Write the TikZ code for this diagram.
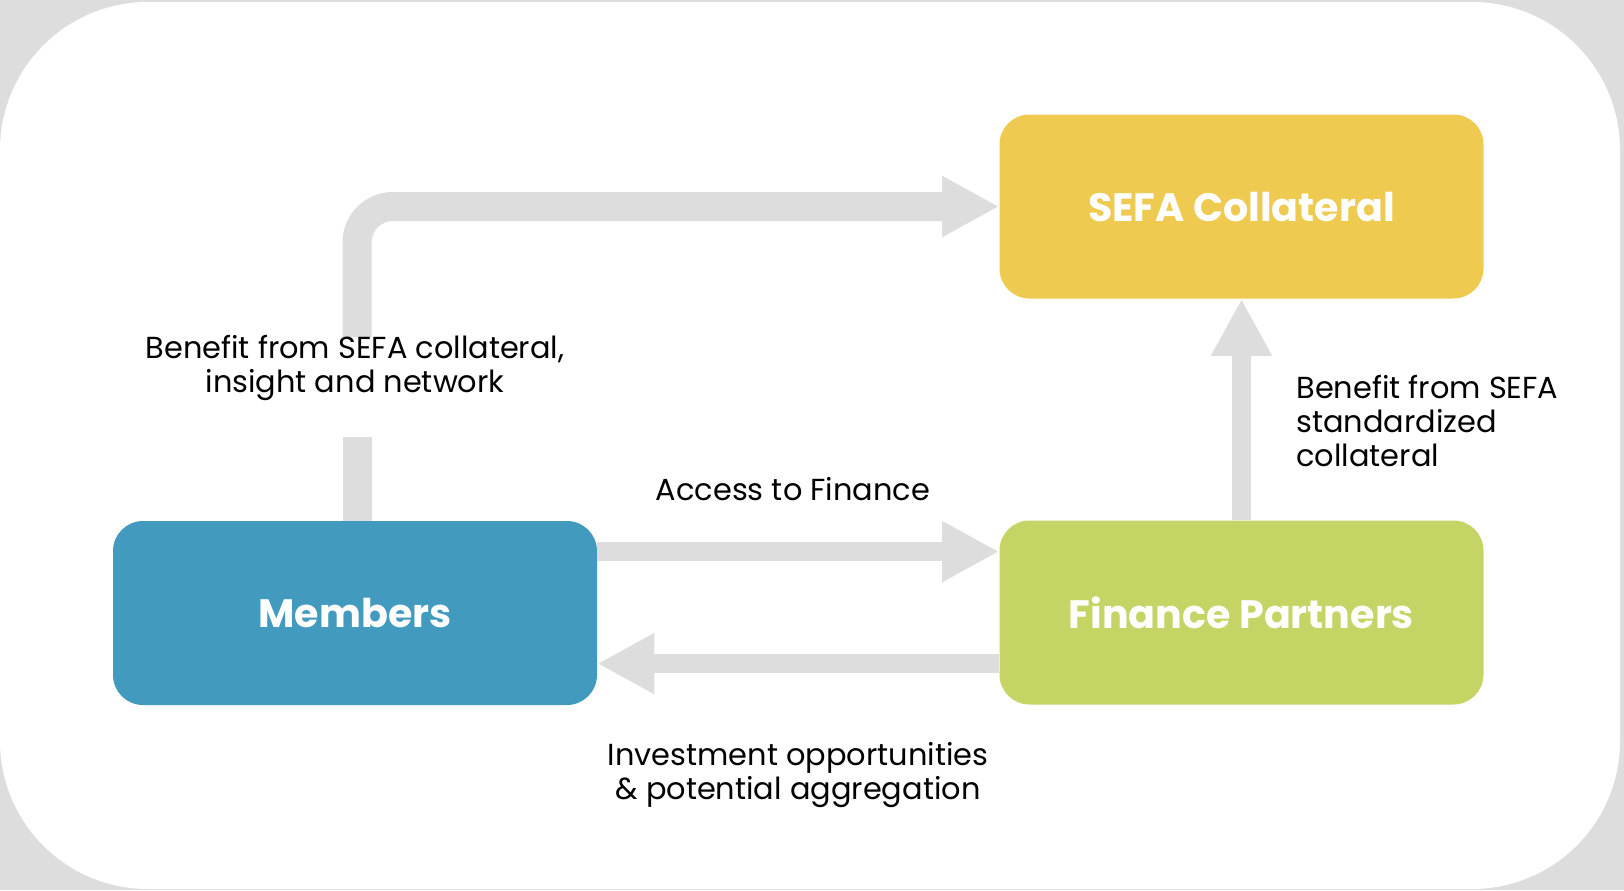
\documentclass[tikz,border=0pt]{standalone}
\usepackage{fontspec}
\setmainfont{Poppins}
\usepackage{tikz}
\usetikzlibrary{shapes,arrows,arrows.meta,positioning}

\definecolor{sefablue}{HTML}{429BBF}
\definecolor{sefayellow}{HTML}{EECA50}
\definecolor{sefagreen}{HTML}{C6D466}
\definecolor{flowgray}{HTML}{DDDDDD}

\begin{document}
\begin{tikzpicture}[x=0.5pt, y=-0.5pt]
			\tikzstyle{Party}	= [rectangle, rounded corners=15pt, minimum width=242pt, minimum height=92pt, inner sep=0pt, text=white, font=\fontsize{19.8}{23}\selectfont\bfseries]
			\tikzstyle{Flow}	= [flowgray, line width=9.5pt, -{Triangle[length=28.5pt, width=28.5pt]}]
			\tikzstyle{WideFlow}	= [Flow, line width=14.5pt]
			\tikzstyle{Note}	= [inner sep=0pt, font=\fontsize{15.2}{17}\selectfont]

			% frame
			\fill [flowgray] (0, 0) rectangle (1624, 890);
			\fill [white, rounded corners=74pt] (0, 2) rectangle (1620, 889);
			\useasboundingbox (0, 0) rectangle (1624, 890);

			\node (members) at (355, 613) [Party, fill=sefablue] {Members};
			\node (sefa) at (1241.5, 206.5) [Party, fill=sefayellow] {SEFA Collateral};
			\node (partners) at (1241.5, 612.5) [Party, fill=sefagreen] {Finance Partners};

			\coordinate (bend) at (357, 337);
			\coordinate (stub) at (357, 437);

			\draw [WideFlow, rounded corners=18pt] (bend) |- (sefa.west);
			\draw [flowgray, line width=14.5pt] (members.north -| stub) -- (stub);
			\draw [Flow] ([yshift=-15.5pt]members.north east) -- ([yshift=-15.5pt]members.north east -| partners.west);
			\draw [Flow] ([yshift=-71.75pt]partners.north west) -- ([yshift=-71.75pt]partners.north west -| members.east);
			\draw [Flow] (partners.north) -- (sefa.south);

			\node (benefit) at (355, 368) [Note, align=center] {Benefit from SEFA collateral,\\insight and network};
			\node (access) at (793, 489) [Note] {Access to Finance};
			\node (invest) at (798, 775) [Note, align=center] {Investment opportunities\\\& potential aggregation};
			\node (standard) at (1296, 421) [Note, anchor=west, align=left] {Benefit from SEFA\\standardized\\collateral};
		\end{tikzpicture}
\end{document}
